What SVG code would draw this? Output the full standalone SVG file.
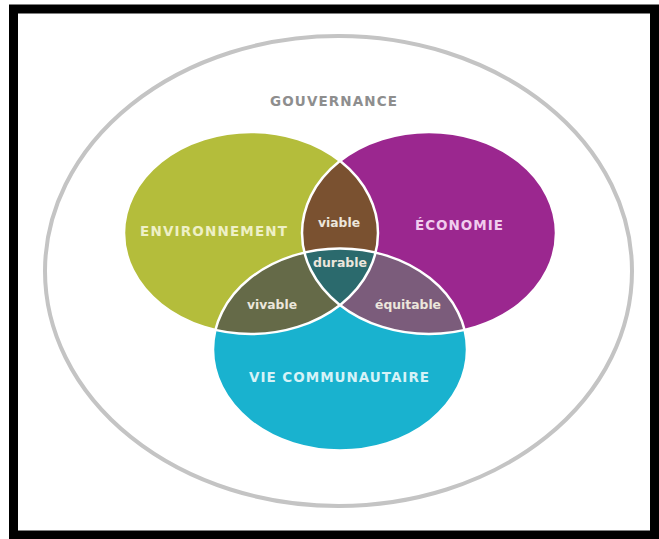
<svg xmlns="http://www.w3.org/2000/svg" width="659" height="539" viewBox="0 0 659 539">
  <style>
    .lbl { font-family: "DejaVu Sans", "Liberation Sans", sans-serif; font-weight: bold; text-anchor: middle; }
    .cap { font-size: 13.5px; }
    .sm { font-size: 12px; fill: #ece6dc; }
    .edge { fill: none; stroke: #ffffff; stroke-width: 2.5; }
  </style>
  <defs>
    <clipPath id="cG"><ellipse cx="251" cy="233" rx="127" ry="101"/></clipPath>
    <clipPath id="cP"><ellipse cx="429" cy="233" rx="127" ry="101"/></clipPath>
  </defs>
  <rect x="0" y="0" width="659" height="539" fill="#ffffff"/>
  <rect x="13.5" y="9" width="641" height="526" fill="none" stroke="#000000" stroke-width="9"/>

  <g id="gouvernance">
    <ellipse cx="338.5" cy="271" rx="293.5" ry="235" fill="none" stroke="#c4c4c4" stroke-width="4"/>
    <text class="lbl cap" x="333.5" y="106" textLength="127" lengthAdjust="spacing" fill="#8e8e8e" font-weight="600">GOUVERNANCE</text>
  </g>

  <g id="environnement">
    <ellipse cx="251" cy="233" rx="127" ry="101" fill="#b4bd3b"/>
  </g>
  <g id="economie">
    <ellipse cx="429" cy="233" rx="127" ry="101" fill="#9b278f"/>
  </g>
  <g id="vie-communautaire">
    <ellipse cx="340" cy="349.5" rx="127" ry="101" fill="#19b2cf"/>
  </g>

  <g id="viable">
    <ellipse cx="429" cy="233" rx="127" ry="101" fill="#7a5130" clip-path="url(#cG)"/>
  </g>
  <g id="vivable">
    <ellipse cx="340" cy="349.5" rx="127" ry="101" fill="#656a48" clip-path="url(#cG)"/>
  </g>
  <g id="equitable">
    <ellipse cx="340" cy="349.5" rx="127" ry="101" fill="#7b5c7b" clip-path="url(#cP)"/>
  </g>
  <g id="durable">
    <g clip-path="url(#cG)">
      <ellipse cx="340" cy="349.5" rx="127" ry="101" fill="#2b6a6d" clip-path="url(#cP)"/>
    </g>
  </g>

  <g id="outlines">
    <ellipse class="edge" cx="251" cy="233" rx="127" ry="101"/>
    <ellipse class="edge" cx="429" cy="233" rx="127" ry="101"/>
    <ellipse class="edge" cx="340" cy="349.5" rx="127" ry="101"/>
  </g>

  <g id="labels">
    <text class="lbl cap" x="213.5" y="235.5" textLength="147" lengthAdjust="spacing" fill="#eef0c6">ENVIRONNEMENT</text>
    <text class="lbl cap" x="459" y="229.5" textLength="88" lengthAdjust="spacing" fill="#f1cdee">ÉCONOMIE</text>
    <text class="lbl cap" x="339" y="381.5" textLength="180" lengthAdjust="spacing" fill="#d6f2f7">VIE COMMUNAUTAIRE</text>
    <text class="lbl sm" x="339" y="227" textLength="42" lengthAdjust="spacingAndGlyphs">viable</text>
    <text class="lbl sm" x="340" y="267" textLength="54" lengthAdjust="spacingAndGlyphs">durable</text>
    <text class="lbl sm" x="272" y="309" textLength="50" lengthAdjust="spacingAndGlyphs">vivable</text>
    <text class="lbl sm" x="408" y="309" textLength="66" lengthAdjust="spacingAndGlyphs">équitable</text>
  </g>
</svg>
